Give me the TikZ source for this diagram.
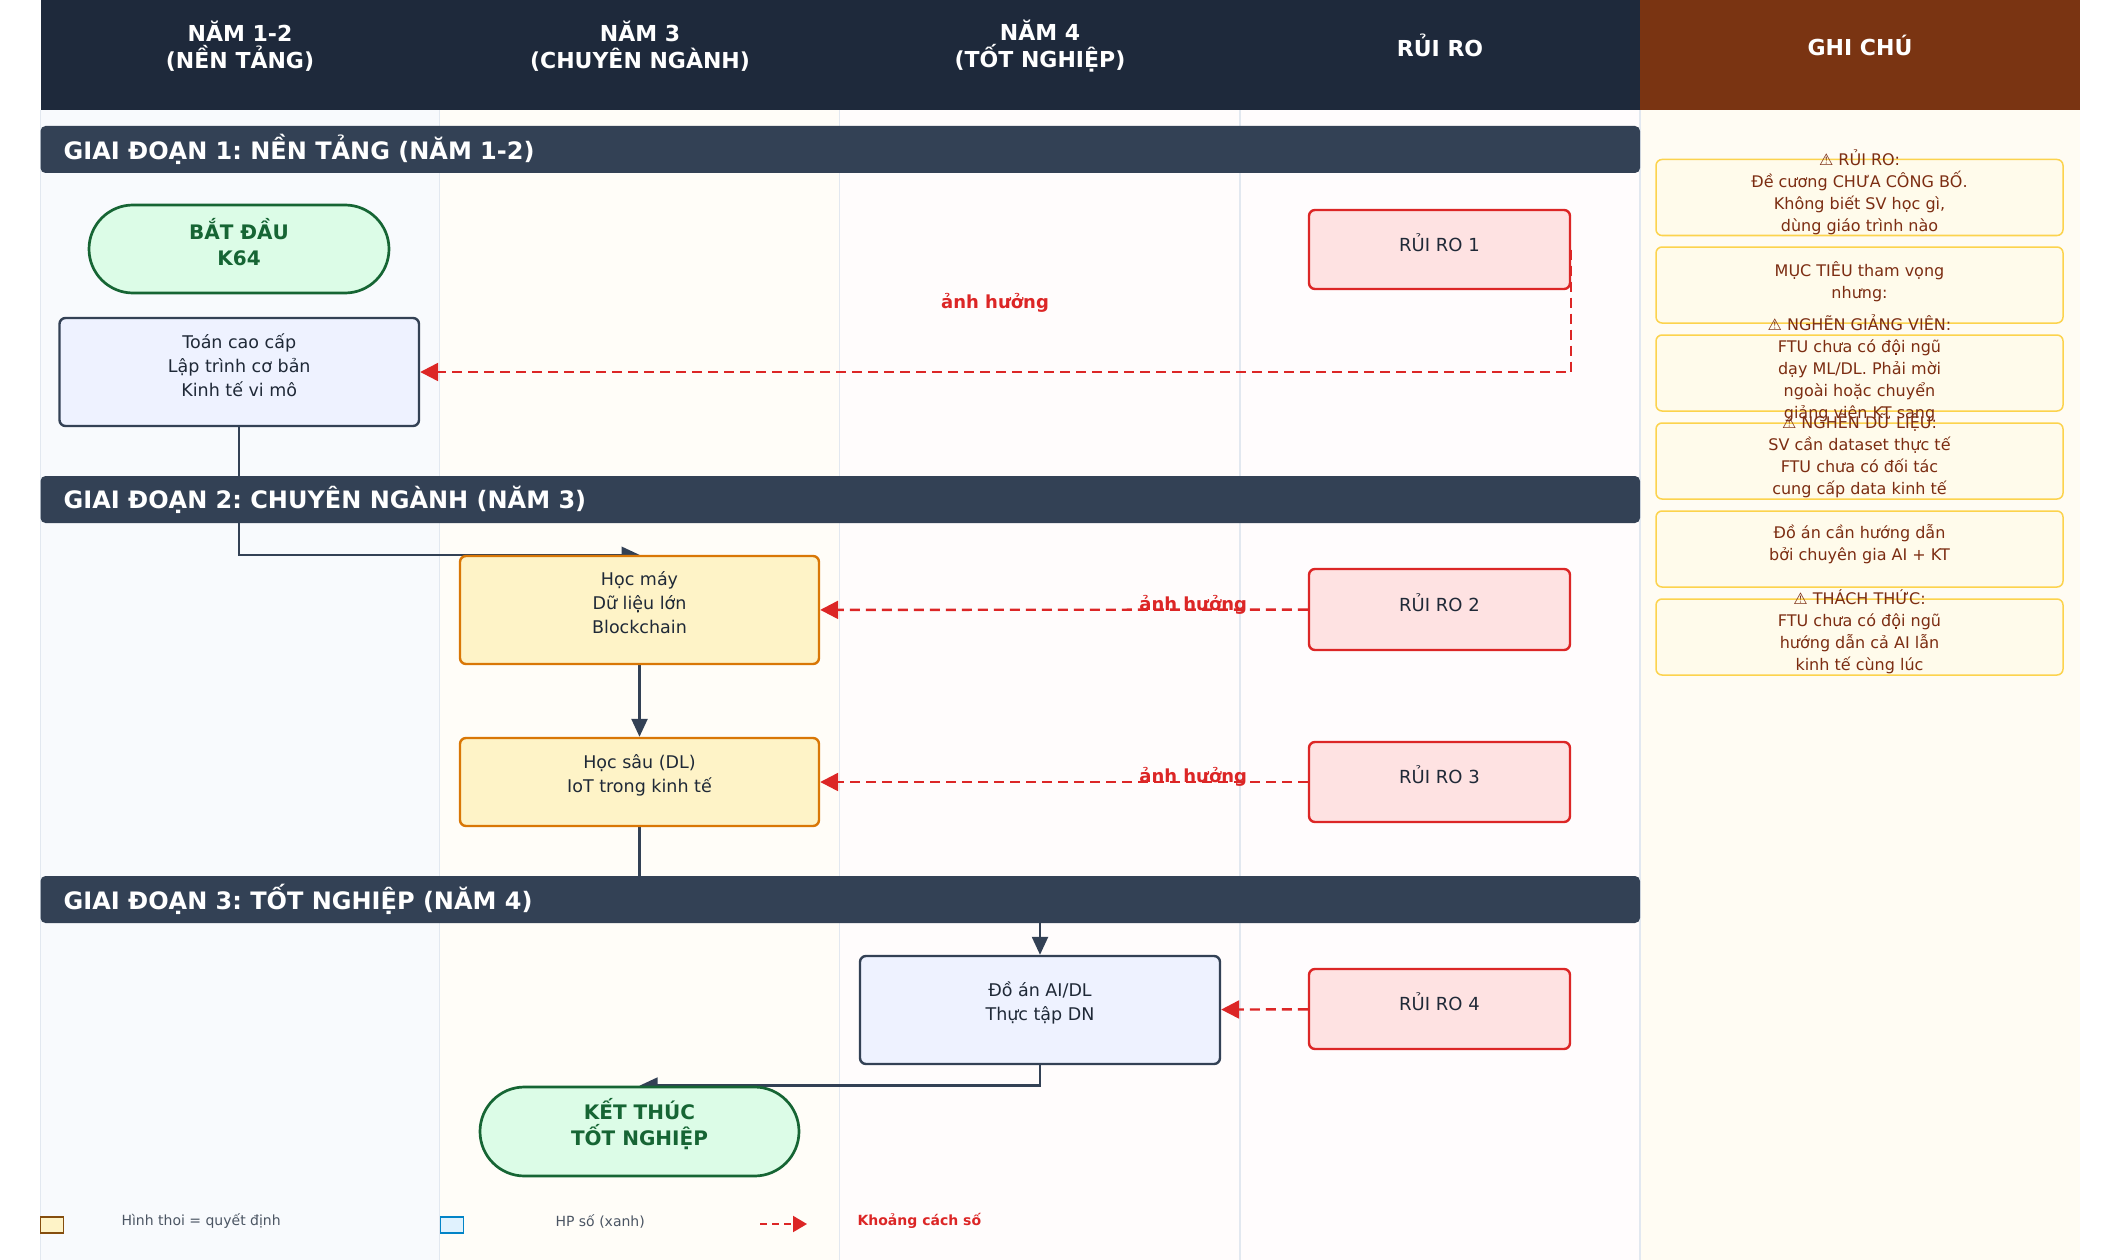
\documentclass[tikz,border=0pt]{standalone}
\usepackage{fontspec}
\setmainfont{DejaVu Sans}
\usetikzlibrary{arrows.meta,shapes.misc}
\pgfdeclarelayer{bg}
\pgfdeclarelayer{edges}
\pgfsetlayers{bg,edges,main}

\definecolor{hdrnavy}{HTML}{1E293B}
\definecolor{hdrbrown}{HTML}{7A3412}
\definecolor{barslate}{HTML}{334155}
\definecolor{colA}{HTML}{F8FAFD}
\definecolor{colB}{HTML}{FFFDF8}
\definecolor{colC}{HTML}{FFFCFC}
\definecolor{colD}{HTML}{FFFCFD}
\definecolor{colE}{HTML}{FFFCF3}
\definecolor{gridline}{HTML}{E2E8F0}
\definecolor{termgreen}{HTML}{166534}
\definecolor{termfill}{HTML}{DCFCE7}
\definecolor{stepfill}{HTML}{EEF2FF}
\definecolor{inkdark}{HTML}{1F2937}
\definecolor{majorline}{HTML}{D97706}
\definecolor{majorfill}{HTML}{FEF3C7}
\definecolor{riskred}{HTML}{DC2626}
\definecolor{riskfill}{HTML}{FEE2E2}
\definecolor{noteline}{HTML}{FCD34D}
\definecolor{notefill}{HTML}{FFFBEB}
\definecolor{notebrown}{HTML}{7C2D12}
\definecolor{legendgray}{HTML}{4B5563}
\definecolor{legbrown}{HTML}{854D0E}
\definecolor{legblue}{HTML}{0284C7}
\definecolor{legbluefill}{HTML}{E0F2FE}

\tikzset{
  hdrtext/.style={text=white, font=\bfseries\fontsize{22}{27}\selectfont, align=center},
  phasebar/.style={fill=barslate, rounded corners=5pt},
  phasetext/.style={text=white, font=\bfseries\fontsize{24}{28}\selectfont, anchor=west, inner sep=0pt},
  startend/.style={rounded rectangle, draw=termgreen, fill=termfill, line width=2.7pt, inner sep=0pt},
  termtext/.style={text=termgreen, font=\bfseries\fontsize{20}{26}\selectfont, align=center,
    inner sep=0pt, yshift=7pt},
  stepbox/.style={rectangle, rounded corners=6pt, draw=barslate, fill=stepfill, line width=2.4pt, inner sep=0pt},
  majorbox/.style={stepbox, draw=majorline, fill=majorfill},
  riskbox/.style={stepbox, draw=riskred, fill=riskfill},
  steptext/.style={text=inkdark, font=\fontsize{17.5}{24}\selectfont, align=center, inner sep=0pt, yshift=7pt},
  risktext/.style={steptext, font=\fontsize{18}{24}\selectfont},
  notebox/.style={rectangle, rounded corners=6pt, draw=noteline, fill=notefill, line width=1.5pt,
    minimum width=407pt, minimum height=76pt, inner sep=0pt},
  notetext/.style={text=notebrown, font=\fontsize{16}{22}\selectfont, align=center},
  flow/.style={draw=barslate, line width=2.4pt, -{Triangle[length=18pt,width=16pt]}},
  riskarrow/.style={draw=riskred, line width=2.4pt, dash pattern=on 10pt off 6pt,
    -{Triangle[length=18pt,width=18pt]}},
  impact/.style={text=riskred, font=\bfseries\fontsize{18}{20}\selectfont},
  legendtext/.style={text=legendgray, font=\fontsize{14}{16}\selectfont, anchor=west},
  legendbox/.style={line width=1.8pt, minimum width=23pt, minimum height=16pt, inner sep=0pt}
}

\begin{document}
\frenchspacing
\begin{tikzpicture}[x=1pt, y=-1pt]
    \useasboundingbox (0,0) rectangle (2120,1260);

    %%%%% LANES %%%%%
    \begin{pgfonlayer}{bg}
        \fill[colA] (40.5,110) rectangle (439.5,1260);
        \fill[colB] (439.5,110) rectangle (839.6,1260);
        \fill[colC] (839.6,110) rectangle (1240,1260);
        \fill[colD] (1240,110) rectangle (1640,1260);
        \fill[colE] (1640,110) rectangle (2080,1260);
        \foreach \lx in {40.5,439.5,839.6,1240,1640}
            \draw[gridline, line width=1.5pt] (\lx,110) -- (\lx,1260);
        \fill[hdrnavy] (40.5,0) rectangle (1640,110);
        \fill[hdrbrown] (1640,0) rectangle (2080,110);
    \end{pgfonlayer}

    \node[hdrtext] (h1) at (240,46) {NĂM 1-2\\(NỀN TẢNG)};
    \node[hdrtext] (h2) at (640,46) {NĂM 3\\(CHUYÊN NGÀNH)};
    \node[hdrtext] (h3) at (1040,46) {NĂM 4\\(TỐT NGHIỆP)};
    \node[hdrtext] (h4) at (1440,45) {RỦI RO};
    \node[hdrtext] (h5) at (1860,45) {GHI CHÚ};

    %%%%% PHASES %%%%%
    \fill[phasebar] (40.5,126) rectangle (1640,173);
    \node[phasetext] (gd1) at (63.5,149.5) {GIAI ĐOẠN 1: NỀN TẢNG (NĂM 1-2)};
    \fill[phasebar] (40.5,476) rectangle (1640,523);
    \node[phasetext] (gd2) at (63.5,499.5) {GIAI ĐOẠN 2: CHUYÊN NGÀNH (NĂM 3)};
    \fill[phasebar] (40.5,876) rectangle (1640,923);
    \node[phasetext] (gd3) at (63.5,899.5) {GIAI ĐOẠN 3: TỐT NGHIỆP (NĂM 4)};

    %%%%% FLOW %%%%%
    \node[startend, minimum width=300pt, minimum height=88pt,
        label={[termtext]center:{BẮT ĐẦU\\K64}}] (batdau) at (239,249) {};
    \node[stepbox, minimum width=359.5pt, minimum height=108pt,
        label={[steptext]center:{Toán cao cấp\\Lập trình cơ bản\\Kinh tế vi mô}}] (toan) at (239.25,372) {};
    \node[majorbox, minimum width=359pt, minimum height=108pt,
        label={[steptext]center:{Học máy\\Dữ liệu lớn\\Blockchain}}] (hocmay) at (639.5,610) {};
    \node[majorbox, minimum width=359pt, minimum height=88pt,
        label={[steptext]center:{Học sâu (DL)\\IoT trong kinh tế}}] (hocsau) at (639.5,782) {};
    \node[stepbox, minimum width=360pt, minimum height=108pt,
        label={[steptext]center:{Đồ án AI/DL\\Thực tập DN}}] (doan) at (1040,1010) {};
    \node[startend, minimum width=319pt, minimum height=89pt,
        label={[termtext]center:{KẾT THÚC\\TỐT NGHIỆP}}] (ketthuc) at (639.5,1131.5) {};

    \node[riskbox, minimum width=261pt, minimum height=79pt,
        label={[risktext]center:RỦI RO 1}] (rr1) at (1439.5,249.5) {};
    \node[riskbox, minimum width=261pt, minimum height=81pt,
        label={[risktext]center:RỦI RO 2}] (rr2) at (1439.5,609.5) {};
    \node[riskbox, minimum width=261pt, minimum height=80pt,
        label={[risktext]center:RỦI RO 3}] (rr3) at (1439.5,782) {};
    \node[riskbox, minimum width=261pt, minimum height=80pt,
        label={[risktext]center:RỦI RO 4}] (rr4) at (1439.5,1009) {};

    \node[impact] (ah1) at (995,303) {ảnh hưởng};

    \coordinate (lvl3) at (0,900);
    \begin{pgfonlayer}{edges}
        \draw[flow] (toan.south) |- (hocmay.north);
        \draw[flow] (hocmay) -- (hocsau);
        \draw[flow] (hocsau.south) -- (hocsau.south |- lvl3) -| (doan.north);
        \draw[flow] (doan.south) |- (ketthuc.north);

        \draw[riskarrow] (rr1.east) |- (toan.east);
        \draw[riskarrow] (rr2) -- node[impact, pos=0.235, yshift=5pt] (ah2) {ảnh hưởng} (hocmay);
        \draw[riskarrow] (rr3) -- node[impact, pos=0.235, yshift=5pt] (ah3) {ảnh hưởng} (hocsau);
        \draw[riskarrow] (rr4) -- (doan);
    \end{pgfonlayer}

    %%%%% NOTES %%%%%
    \foreach \ny [count=\ni] in {197.5,285,373,461,549,637}
        \node[notebox] (n\ni) at (1859.5,\ny) {};
    \node[notetext] (t1) at ([yshift=5pt]n1.center)
        {⚠ RỦI RO:\\Đề cương CHƯA CÔNG BỐ.\\Không biết SV học gì,\\dùng giáo trình nào};
    \node[notetext] (t2) at ([yshift=3pt]n2.center) {MỤC TIÊU tham vọng\\nhưng:};
    \node[notetext] (t3) at ([yshift=5pt]n3.center)
        {⚠ NGHẼN GIẢNG VIÊN:\\FTU chưa có đội ngũ\\dạy ML/DL. Phải mời\\ngoài hoặc chuyển\\giảng viên KT sang};
    \node[notetext] (t4) at ([yshift=5pt]n4.center)
        {⚠ NGHẼN DỮ LIỆU:\\SV cần dataset thực tế\\FTU chưa có đối tác\\cung cấp data kinh tế};
    \node[notetext] (t5) at ([yshift=5pt]n5.center) {Đồ án cần hướng dẫn\\bởi chuyên gia AI + KT};
    \node[notetext] (t6) at ([yshift=5pt]n6.center)
        {⚠ THÁCH THỨC:\\FTU chưa có đội ngũ\\hướng dẫn cả AI lẫn\\kinh tế cùng lúc};

    %%%%% LEGEND %%%%%
    \node[legendbox, draw=legbrown, fill=majorfill] (lg1) at (52,1225) {};
    \node[legendtext] (lgt1) at (118,1221) {Hình thoi = quyết định};
    \node[legendbox, draw=legblue, fill=legbluefill] (lg2) at (452,1225) {};
    \node[legendtext] (lgt2) at (552,1221) {HP số (xanh)};
    \coordinate (lgA) at (760,1224);
    \coordinate (lgB) at (807,1224);
    \draw[riskarrow, line width=2pt, dash pattern=on 7pt off 5pt,
        -{Triangle[length=14pt,width=16pt]}] (lgA) -- (lgB);
    \node[impact, font=\bfseries\fontsize{14}{16}\selectfont, anchor=west] (lgt3) at (854,1221) {Khoảng cách số};
\end{tikzpicture}
\end{document}
